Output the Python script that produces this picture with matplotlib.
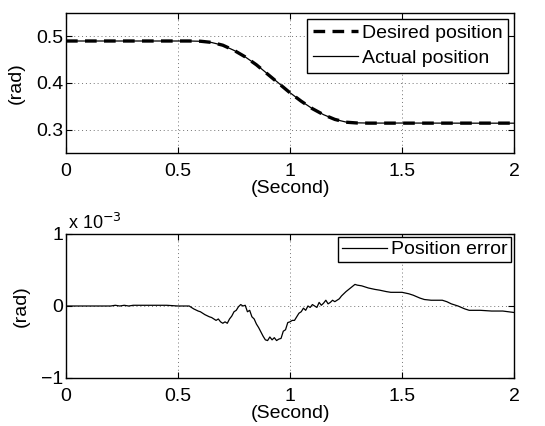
import matplotlib.pyplot as plt
import numpy as np

plt.rcParams['font.family'] = ['Liberation Sans', 'DejaVu Sans']

# position trajectory (rad)
t_pos = [0.0, 0.1, 0.2, 0.3, 0.4, 0.5, 0.55, 0.6, 0.65, 0.7, 0.75, 0.8, 0.85,
         0.9, 0.95, 1.0, 1.05, 1.1, 1.15, 1.2, 1.25, 1.3, 1.35, 1.4, 1.5,
         1.6, 1.7, 1.8, 1.9, 2.0]
desired = [0.49, 0.49, 0.49, 0.49, 0.49, 0.49, 0.49, 0.4895, 0.487, 0.481,
           0.470, 0.456, 0.439, 0.419, 0.399, 0.379, 0.361, 0.345, 0.332,
           0.322, 0.316, 0.3143, 0.314, 0.314, 0.314, 0.314, 0.314, 0.314,
           0.314, 0.314]
actual = [0.49, 0.49, 0.49, 0.49, 0.49, 0.49, 0.49, 0.4894, 0.4868, 0.4808,
          0.4699, 0.4559, 0.4392, 0.4195, 0.3995, 0.3792, 0.3611, 0.3450,
          0.3321, 0.3221, 0.3163, 0.3146, 0.3142, 0.3141, 0.3142, 0.3141,
          0.3140, 0.3139, 0.3139, 0.3139]

# position error (x 1e-3 rad)
t_err = [0.0, 0.1, 0.2, 0.22, 0.24, 0.26, 0.28, 0.3, 0.35, 0.4, 0.45, 0.5,
         0.55, 0.57, 0.59, 0.6, 0.62, 0.64, 0.65, 0.67, 0.68, 0.69, 0.7,
         0.71, 0.72, 0.73, 0.74, 0.75, 0.76, 0.77, 0.78, 0.79, 0.8, 0.81,
         0.82, 0.83, 0.84, 0.85, 0.86, 0.87, 0.88, 0.89, 0.9, 0.91, 0.92,
         0.93, 0.94, 0.95, 0.96, 0.97, 0.98, 0.99, 1.0, 1.01, 1.02, 1.03,
         1.04, 1.05, 1.06, 1.07, 1.08, 1.09, 1.1, 1.11, 1.12, 1.13, 1.14,
         1.15, 1.16, 1.17, 1.18, 1.19, 1.2, 1.21, 1.22, 1.23, 1.25, 1.27,
         1.29, 1.3, 1.32, 1.35, 1.38, 1.4, 1.43, 1.45, 1.48, 1.5, 1.53,
         1.55, 1.58, 1.6, 1.63, 1.65, 1.68, 1.7, 1.72, 1.75, 1.78, 1.8,
         1.83, 1.85, 1.9, 1.95, 2.0]
error = [0.0, 0.0, 0.0, 0.01, 0.0, 0.01, 0.0, 0.01, 0.01, 0.01, 0.01, 0.0,
         0.0, -0.04, -0.07, -0.08, -0.12, -0.15, -0.16, -0.2, -0.18, -0.22,
         -0.24, -0.22, -0.24, -0.18, -0.14, -0.08, -0.06, -0.01, 0.02, 0.0,
         0.01, -0.08, -0.06, -0.15, -0.18, -0.25, -0.3, -0.36, -0.42, -0.47,
         -0.48, -0.43, -0.47, -0.44, -0.48, -0.46, -0.45, -0.35, -0.33,
         -0.23, -0.22, -0.2, -0.2, -0.15, -0.1, -0.08, -0.03, -0.06, 0.0,
         -0.02, 0.02, 0.0, -0.02, 0.05, 0.01, 0.04, 0.08, 0.03, 0.05, 0.08,
         0.06, 0.08, 0.1, 0.14, 0.2, 0.25, 0.3, 0.29, 0.28, 0.25, 0.23,
         0.22, 0.2, 0.19, 0.19, 0.19, 0.17, 0.15, 0.11, 0.09, 0.08, 0.08,
         0.08, 0.06, 0.03, 0.0, -0.04, -0.06, -0.06, -0.06, -0.07, -0.07,
         -0.09]

fig = plt.figure(figsize=(5.45, 4.26), dpi=100)
ax1 = fig.add_axes([66 / 545, 1 - 153 / 426, 448 / 545, 140 / 426])
ax2 = fig.add_axes([66 / 545, 1 - 378 / 426, 448 / 545, 144 / 426])


def style(ax):
    ax.grid(True, linestyle=(0, (1, 3)), color='0.45', linewidth=0.7)
    ax.tick_params(direction='in', top=True, right=True, labelsize=14,
                   length=4, width=0.8)
    ax.tick_params(axis='x', pad=7)
    ax.tick_params(axis='y', pad=2)
    for s in ax.spines.values():
        s.set_linewidth(1.0)
    ax.set_xlim(0, 2)
    ax.set_xticks([0, 0.5, 1, 1.5, 2])
    ax.set_xticklabels(['0', '0.5', '1', '1.5', '2'])
    ax.set_xlabel('(Second)', fontsize=14, labelpad=0)
    ax.set_ylabel('(rad)', fontsize=14, labelpad=8)


ax1.plot(t_pos, desired, color='black', linestyle=(0, (3.5, 2.2)),
         linewidth=2.4, label='Desired position')
ax1.plot(t_pos, actual, color='black', linewidth=0.9, label='Actual position')
ax1.set_ylim(0.25, 0.55)
ax1.set_yticks([0.3, 0.4, 0.5])
style(ax1)
leg = ax1.legend(loc='upper right', fontsize=14, fancybox=False,
                 edgecolor='black', framealpha=1, borderaxespad=0.3,
                 handlelength=2.3, handletextpad=0.2, borderpad=0.3,
                 labelspacing=0.35)
leg.get_frame().set_linewidth(1.0)

ax2.plot(t_err, error, color='black', linewidth=0.9, label='Position error')
ax2.set_ylim(-1, 1)
ax2.set_yticks([-1, 0, 1])
ax2.set_yticklabels(['\u22121', '0', '1'])
style(ax2)
leg2 = ax2.legend(loc='upper right', fontsize=14, fancybox=False,
                  edgecolor='black', framealpha=1, borderaxespad=0.15,
                  handlelength=2.3, handletextpad=0.2, borderpad=0.2)
leg2.get_frame().set_linewidth(1.0)
ax2.text(0.005, 1.01, r'x 10$^{-3}$', transform=ax2.transAxes, fontsize=13,
         ha='left', va='bottom')

fig.savefig('out.png', dpi=100)
